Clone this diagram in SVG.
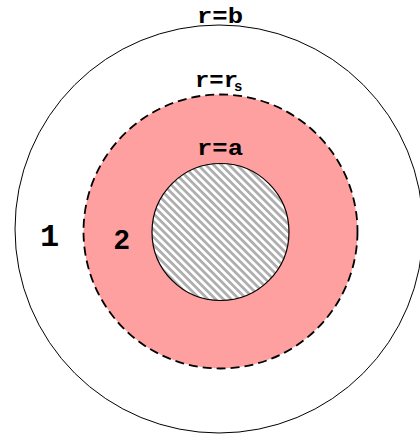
<svg xmlns="http://www.w3.org/2000/svg" width="420" height="436" viewBox="0 0 420 436">
<style>
.lbl{font-family:"Liberation Mono","Courier New",monospace;font-weight:bold;fill:#000}
</style>
<defs>
<pattern id="hatch" width="5.5" height="5.5" patternUnits="userSpaceOnUse" patternTransform="rotate(-45)">
<rect width="5.5" height="5.5" fill="#fff"/>
<line x1="0.8" y1="0" x2="0.8" y2="5.5" stroke="#000" stroke-width="0.45"/>
<line x1="2" y1="0" x2="2" y2="5.5" stroke="#000" stroke-width="0.45"/>
</pattern>
</defs>
<rect width="420" height="436" fill="#fff"/>
<g id="outer">
<circle cx="219" cy="229" r="204" fill="#fff" stroke="#000" stroke-width="1"/>
</g>
<g id="shell">
<circle cx="220.5" cy="231.5" r="137" fill="#ffa0a0" stroke="#000" stroke-width="1.8" stroke-dasharray="9,5"/>
</g>
<g id="core">
<circle cx="220.5" cy="232" r="68.5" fill="url(#hatch)" stroke="#000" stroke-width="1.2"/>
</g>
<g id="labels">
<text class="lbl" x="197" y="23" font-size="22" textLength="46" lengthAdjust="spacingAndGlyphs">r=b</text>
<text class="lbl" x="195" y="87" font-size="22" textLength="43" lengthAdjust="spacingAndGlyphs">r=r</text>
<text class="lbl" x="234" y="91" font-size="14">s</text>
<text class="lbl" x="197" y="155" font-size="22" textLength="46" lengthAdjust="spacingAndGlyphs">r=a</text>
<text class="lbl" x="40" y="246" font-size="32">1</text>
<text x="114" y="249" font-size="28" font-family="Liberation Sans,Arial,sans-serif" font-weight="bold">2</text>
</g>
</svg>
